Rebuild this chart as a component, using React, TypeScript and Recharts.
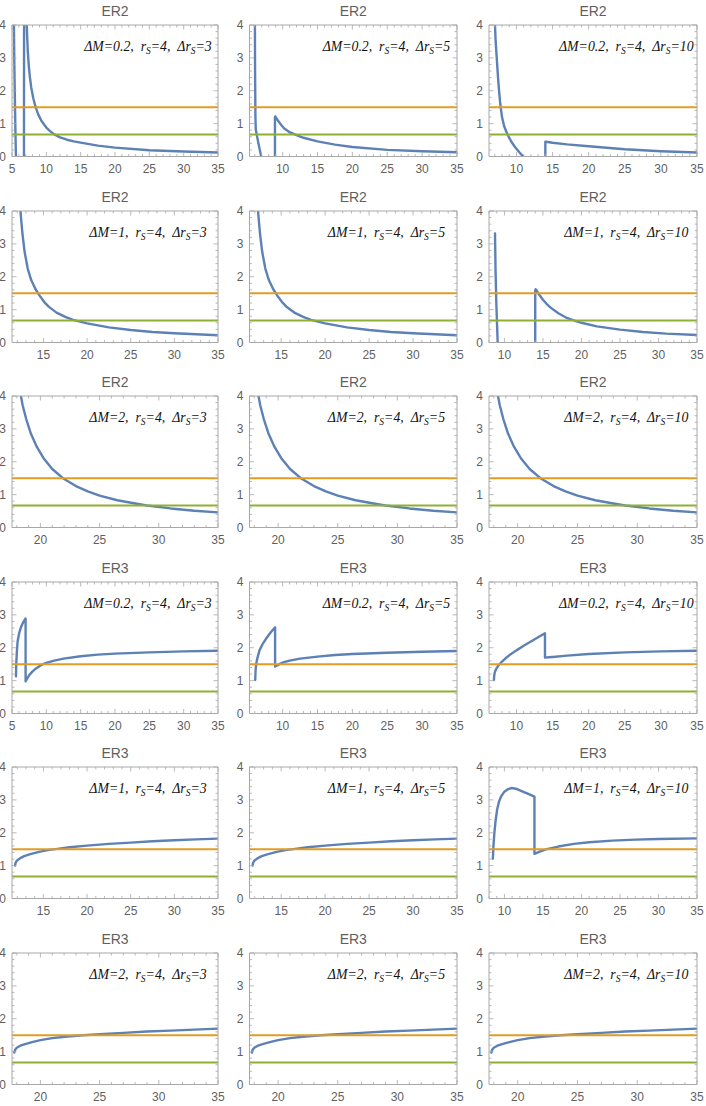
import React from 'react';
import { LineChart, Line, XAxis, YAxis } from 'recharts';

// ---------- data ----------
// [x, y] pairs; [x, null] marks a gap in the curve
const er2_dm02_drs3: [number, number | null][] = [
  [5.26, 4.4], [5.33, 3.0], [5.4, 2.0], [5.48, 1.0], [5.58, -0.1], [6.2, null],
  [6.74, -0.2], [6.76, 4.4], [7.0, null],
  [7.12, 4.2], [7.2, 3.7], [7.3, 3.2], [7.45, 2.75], [7.6, 2.42], [7.8, 2.1], [8.1, 1.77],
  [8.4, 1.53], [8.8, 1.29], [9.3, 1.08], [10, 0.88], [10.5, 0.78], [11.1, 0.68], [12, 0.58],
  [13, 0.51], [14, 0.46], [15, 0.42], [17.5, 0.33], [20, 0.27], [25, 0.19], [30, 0.15], [35, 0.12],
];
const er2_dm02_drs5: [number, number | null][] = [
  [6.02, 4.4], [6.05, 2.6], [6.1, 1.2], [6.15, 0.82], [6.5, 0.43], [6.95, -0.02], [8.0, null],
  [8.9, -0.1], [8.9, 1.2], [8.95, 1.22], [9.1, 1.17], [9.4, 1.07], [9.8, 0.96], [10.2, 0.86],
  [11, 0.74], [12, 0.65], [13, 0.57], [15, 0.46], [17.5, 0.36], [20, 0.29], [25, 0.2],
  [30, 0.16], [35, 0.13],
];
const er2_dm02_drs10: [number, number | null][] = [
  [6.98, 4.3], [7.03, 4.0], [7.12, 3.5], [7.27, 3.0], [7.45, 2.4], [7.6, 1.98], [7.75, 1.62],
  [8.0, 1.2], [8.3, 0.92], [8.76, 0.67], [9.3, 0.45], [9.8, 0.29], [10.4, 0.13], [11.0, -0.02],
  [12.5, null],
  [14, -0.1], [14, 0.45], [14.1, 0.45], [15, 0.42], [17, 0.37], [20, 0.31], [25, 0.22],
  [30, 0.16], [35, 0.12],
];
const er2_dm1: [number, number | null][] = [
  [12.28, 4.4], [12.4, 3.9], [12.6, 3.3], [12.85, 2.75], [13.2, 2.25], [13.6, 1.9], [14.1, 1.62],
  [14.6, 1.41], [15.1, 1.23], [15.6, 1.09], [16.5, 0.91], [17.5, 0.78], [18.4, 0.69], [20, 0.58],
  [22.5, 0.46], [25, 0.38], [27.5, 0.32], [30, 0.28], [35, 0.22],
];
const er2_dm1_drs10: [number, number | null][] = [
  [8.78, 3.32], [8.85, 2.2], [8.95, 1.2], [9.05, 0.5], [9.13, -0.02], [11, null],
  [14, -0.1], [14, 1.58], [14.05, 1.62], [14.2, 1.58], [14.5, 1.46], [15, 1.3], [15.5, 1.17],
  [16, 1.06], [17, 0.89], [18, 0.76], [19, 0.67], [20, 0.6], [22, 0.49], [25, 0.39], [28, 0.32],
  [31, 0.27], [35, 0.23],
];
const er2_dm2: [number, number | null][] = [
  [18.25, 4.2], [18.5, 3.72], [18.8, 3.3], [19.2, 2.85], [19.7, 2.45], [20.3, 2.09], [21, 1.78],
  [21.9, 1.5], [23, 1.26], [24, 1.1], [25, 0.97], [26.5, 0.83], [28, 0.73], [29, 0.67], [31, 0.58],
  [33, 0.51], [35, 0.46],
];
const er3_dm02_drs3: [number, number | null][] = [
  [5.58, 1.13], [5.62, 1.5], [5.7, 1.85], [5.82, 2.2], [6.05, 2.45], [6.3, 2.62], [6.65, 2.78],
  [6.98, 2.89], [6.98, 0.98], [7.1, 1.02], [7.3, 1.1], [7.6, 1.19], [8.0, 1.28], [8.5, 1.37],
  [9.2, 1.47], [10, 1.54], [11, 1.6], [12.5, 1.67], [15, 1.74], [17.5, 1.79], [20, 1.82],
  [25, 1.86], [30, 1.89], [35, 1.91],
];
const er3_dm02_drs5: [number, number | null][] = [
  [6.07, 1.02], [6.12, 1.3], [6.2, 1.5], [6.4, 1.7], [6.68, 1.92], [7.1, 2.1], [7.64, 2.28],
  [8.3, 2.47], [8.92, 2.62], [8.92, 1.43], [9.2, 1.46], [9.6, 1.51], [10.2, 1.56], [11, 1.61],
  [12.5, 1.67], [15, 1.73], [17.5, 1.78], [20, 1.81], [25, 1.85], [30, 1.88], [35, 1.9],
];
const er3_dm02_drs10: [number, number | null][] = [
  [6.88, 1.02], [6.92, 1.15], [7.0, 1.25], [7.2, 1.36], [7.5, 1.46], [8, 1.58], [8.5, 1.68],
  [9, 1.77], [10, 1.92], [11, 2.06], [12, 2.19], [13, 2.32], [13.95, 2.44], [13.95, 1.7],
  [14.5, 1.71], [15, 1.72], [17, 1.76], [20, 1.81], [25, 1.86], [30, 1.89], [35, 1.91],
];
const er3_dm1: [number, number | null][] = [
  [11.75, 1.0], [11.8, 1.08], [11.95, 1.15], [12.3, 1.22], [12.8, 1.29], [13.5, 1.35],
  [14.5, 1.42], [15.5, 1.47], [16.6, 1.51], [18, 1.56], [20, 1.61], [22.5, 1.66], [25, 1.7],
  [27.5, 1.74], [30, 1.77], [32.5, 1.8], [35, 1.82],
];
const er3_dm1_drs10: [number, number | null][] = [
  [8.5, 1.21], [8.58, 1.6], [8.7, 2.0], [8.85, 2.35], [9.05, 2.7], [9.3, 2.95], [9.6, 3.12],
  [10.0, 3.25], [10.5, 3.33], [10.9, 3.36], [11.5, 3.34], [12.3, 3.26], [13.1, 3.18], [13.9, 3.1],
  [13.9, 1.36], [14.5, 1.42], [15.5, 1.5], [17, 1.58], [19, 1.66], [21, 1.71], [24, 1.76],
  [27, 1.79], [30, 1.81], [35, 1.83],
];
const er3_dm2: [number, number | null][] = [
  [17.8, 0.97], [17.85, 1.05], [18.0, 1.12], [18.3, 1.18], [18.7, 1.23], [19.3, 1.29], [20, 1.35],
  [21, 1.41], [22.3, 1.46], [23.6, 1.5], [25, 1.53], [27, 1.57], [29, 1.61], [31, 1.64],
  [33, 1.67], [35, 1.7],
];

const levelOrange = 1.5;
const levelGreen = 0.667;
const X_MAX = 35;
const Y_DOMAIN: [number, number] = [0, 4];
const yTicks = [0, 0.2, 0.4, 0.6, 0.8, 1, 1.2, 1.4, 1.6, 1.8, 2, 2.2, 2.4, 2.6, 2.8, 3, 3.2, 3.4, 3.6, 3.8, 4];

const titles = ['ER2', 'ER2', 'ER2', 'ER3', 'ER3', 'ER3'];
const dMLabels = ['0.2', '1', '2', '0.2', '1', '2'];
const dRsLabels = ['3', '5', '10'];
const xMins = [
  [5, 5.25, 6.2],
  [11.4, 11.4, 8.0],
  [17.6, 17.6, 17.6],
  [5, 5.25, 6.2],
  [11.4, 11.4, 8.0],
  [17.6, 17.6, 17.6],
];
const curves = [
  [er2_dm02_drs3, er2_dm02_drs5, er2_dm02_drs10],
  [er2_dm1, er2_dm1, er2_dm1_drs10],
  [er2_dm2, er2_dm2, er2_dm2],
  [er3_dm02_drs3, er3_dm02_drs5, er3_dm02_drs10],
  [er3_dm1, er3_dm1, er3_dm1_drs10],
  [er3_dm2, er3_dm2, er3_dm2],
];

// ---------- styling / layout ----------
const BLUE = '#5E81B5';
const ORANGE = '#E19C24';
const GREEN = '#8FB032';
const FRAME = '#a8a8a8';
const LABEL = '#5f5f5f';
const SANS = '"Liberation Sans", Arial, sans-serif';
const SERIF = '"Liberation Serif", "Times New Roman", serif';

const colPlot: [number, number][] = [[12, 218], [249.5, 457], [489, 697]];
const colChartLeft = [0, 235, 470];
const colChartWidth = [235, 235, 236];
const ROW_STEP = 185.5;
const CHART_H = 185;
const PLOT_TOP = 25;
const PLOT_H = 131.5;
const BOTTOM_AX_H = 20;
const TOP_AX_H = 4;
const LEFT_AX_W = 8;
const RIGHT_AX_W = 4;

const isMult = (v: number, m: number) => Math.abs(v / m - Math.round(v / m)) < 1e-6;

function BottomTick(props: any) {
  const { x, y, payload } = props;
  const v = payload.value;
  const major = isMult(v, 5);
  return (
    <g>
      <line x1={x} x2={x} y1={y} y2={y - (major ? 4.5 : 2.5)} stroke={FRAME} strokeWidth={0.8} />
      {major && (
        <text x={x} y={y + 16} textAnchor="middle" fontSize={12} fill={LABEL} fontFamily={SANS}>
          {v}
        </text>
      )}
    </g>
  );
}
function TopTick(props: any) {
  const { x, y, payload } = props;
  const major = isMult(payload.value, 5);
  return <line x1={x} x2={x} y1={y} y2={y + (major ? 4.5 : 2.5)} stroke={FRAME} strokeWidth={0.8} />;
}
function LeftTick(props: any) {
  const { x, y, payload } = props;
  const v = payload.value;
  const major = isMult(v, 1);
  return (
    <g>
      <line x1={x} x2={x + (major ? 4.5 : 2.5)} y1={y} y2={y} stroke={FRAME} strokeWidth={0.8} />
      {major && (
        <text x={x - 6} y={y + 4.3} textAnchor="end" fontSize={12} fill={LABEL} fontFamily={SANS}>
          {Math.round(v)}
        </text>
      )}
    </g>
  );
}
function RightTick(props: any) {
  const { x, y, payload } = props;
  const major = isMult(payload.value, 1);
  return <line x1={x} x2={x - (major ? 4.5 : 2.5)} y1={y} y2={y} stroke={FRAME} strokeWidth={0.8} />;
}

function Panel({ row, col }: { row: number; col: number }) {
  const [pl, pr] = colPlot[col];
  const left = colChartLeft[col];
  const W = colChartWidth[col];
  const top = row * ROW_STEP;
  const xMin = xMins[row][col];
  const margin = {
    top: PLOT_TOP - TOP_AX_H,
    bottom: CHART_H - PLOT_TOP - PLOT_H - BOTTOM_AX_H,
    left: pl - left - LEFT_AX_W,
    right: left + W - pr - RIGHT_AX_W,
  };
  const curveData = curves[row][col].map(([x, y]) => ({ x, y }));
  const orangeData = [{ x: xMin, y: levelOrange }, { x: X_MAX, y: levelOrange }];
  const greenData = [{ x: xMin, y: levelGreen }, { x: X_MAX, y: levelGreen }];
  const xTicks: number[] = [];
  for (let t = Math.ceil(xMin); t <= X_MAX; t++) xTicks.push(t);
  const plotL = pl - left;
  const plotW = pr - pl;
  const axisLine = { stroke: FRAME, strokeWidth: 1 };

  return (
    <div style={{ position: 'absolute', left, top, width: W, height: CHART_H }}>
      <LineChart width={W} height={CHART_H} margin={margin} style={{ overflow: 'visible' }}>
        <XAxis
          xAxisId="b" orientation="bottom" type="number" dataKey="x" domain={[xMin, X_MAX]} allowDataOverflow
          ticks={xTicks} interval={0} height={BOTTOM_AX_H} tickSize={0} tickMargin={0}
          tickLine={false} axisLine={axisLine} tick={BottomTick}
        />
        <XAxis
          xAxisId="t" orientation="top" type="number" dataKey="x" domain={[xMin, X_MAX]} allowDataOverflow
          ticks={xTicks} interval={0} height={TOP_AX_H} tickSize={0} tickMargin={0}
          tickLine={false} axisLine={axisLine} tick={TopTick}
        />
        <YAxis
          yAxisId="l" orientation="left" type="number" domain={Y_DOMAIN} allowDataOverflow ticks={yTicks} interval={0}
          width={LEFT_AX_W} tickSize={0} tickMargin={0} tickLine={false} axisLine={axisLine} tick={LeftTick}
        />
        <YAxis
          yAxisId="r" orientation="right" type="number" domain={Y_DOMAIN} allowDataOverflow ticks={yTicks}
          interval={0} width={RIGHT_AX_W} tickSize={0} tickMargin={0} tickLine={false} axisLine={axisLine} tick={RightTick}
        />
        <Line
          xAxisId="b" yAxisId="l" data={curveData} dataKey="y" type="linear" stroke={BLUE}
          strokeWidth={2.4} dot={false} activeDot={false} isAnimationActive={false}
          strokeLinejoin="round" strokeLinecap="round"
        />
        <Line
          xAxisId="b" yAxisId="l" data={orangeData} dataKey="y" type="linear" stroke={ORANGE}
          strokeWidth={2} dot={false} activeDot={false} isAnimationActive={false}
        />
        <Line
          xAxisId="b" yAxisId="l" data={greenData} dataKey="y" type="linear" stroke={GREEN}
          strokeWidth={2} dot={false} activeDot={false} isAnimationActive={false}
        />
        <Line
          xAxisId="t" yAxisId="r" data={orangeData} dataKey="y" type="linear" stroke="none"
          dot={false} activeDot={false} isAnimationActive={false}
        />
      </LineChart>
      <svg
        width={W}
        height={CHART_H}
        style={{ position: 'absolute', left: 0, top: 0, pointerEvents: 'none', overflow: 'visible' }}
      >
        <text x={plotL + plotW / 2} y={PLOT_TOP - 9} textAnchor="middle" fontSize={14} fill={LABEL} fontFamily={SANS}>
          {titles[row]}
        </text>
        <text
          x={plotL + plotW * 0.66}
          y={PLOT_TOP + 26}
          textAnchor="middle"
          fontSize={13.8}
          fontStyle="italic"
          fill="#111"
          fontFamily={SERIF}
          style={{ whiteSpace: 'pre' }}
        >
          {`ΔM=${dMLabels[row]},  r`}
          <tspan dy={3} fontSize={9.5}>S</tspan>
          <tspan dy={-3}>{`=4,  Δr`}</tspan>
          <tspan dy={3} fontSize={9.5}>S</tspan>
          <tspan dy={-3}>{`=${dRsLabels[col]}`}</tspan>
        </text>
      </svg>
    </div>
  );
}

export default function App() {
  const cells: React.ReactNode[] = [];
  for (let r = 0; r < 6; r++) {
    for (let c = 0; c < 3; c++) {
      cells.push(<Panel key={`${r}-${c}`} row={r} col={c} />);
    }
  }
  return (
    <div
      style={{
        position: 'absolute',
        left: 0,
        top: 0,
        width: 706,
        height: 1106,
        overflow: 'hidden',
        background: '#fff',
      }}
    >
      {cells}
    </div>
  );
}
